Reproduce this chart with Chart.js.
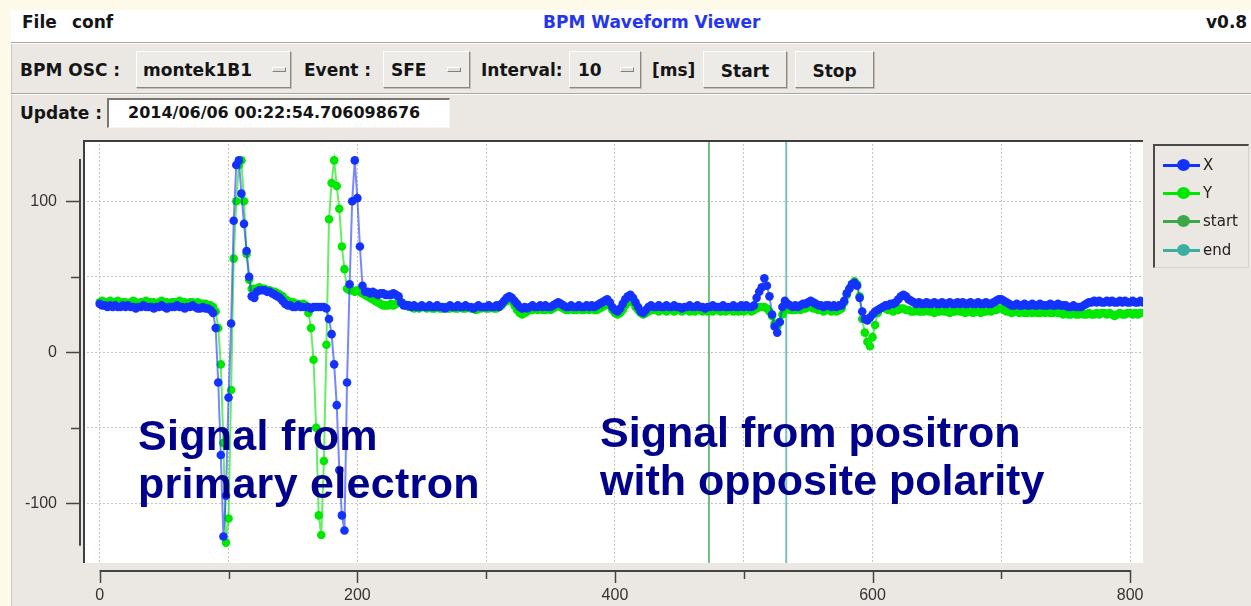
<!DOCTYPE html>
<html>
<head>
<meta charset="utf-8">
<script src="https://cdn.jsdelivr.net/npm/chart.js@4"></script>
<style>
  html, body { margin: 0; padding: 0; }
  body { width: 1251px; height: 606px; position: relative; overflow: hidden; background: #fdfaea; font-family: "DejaVu Sans", sans-serif; }
  #win { position: absolute; left: 11px; top: 10px; width: 1240px; height: 596px; background: #ebe8e3; border-left: 1px solid #cdc9c1; box-sizing: border-box; }
  #menubar { position: absolute; left: 11px; top: 10px; width: 1240px; height: 32px; background: #ffffff; }
  .etch { position: absolute; left: 11px; width: 1240px; height: 1px; background: #a9a59e; border-bottom: 1px solid #ffffff; }
  .lbl { position: absolute; font: bold 17px "DejaVu Sans", sans-serif; line-height: 20px; color: #151515; white-space: nowrap; }
  .raised { position: absolute; top: 51px; height: 37px; box-sizing: border-box; background: #edebe7;
            border: 1px solid; border-color: #ffffff #8b877f #8b877f #ffffff; box-shadow: 1px 1px 0 #c4c0b8; }
  .ind { position: absolute; top: 67px; width: 14px; height: 5px; box-sizing: border-box; background: #e2dfda;
         border: 1px solid; border-color: #ffffff #85817a #85817a #ffffff; }
  .btntext { position: absolute; top: 9px; left: 0; right: 0; text-align: center; font: bold 17px "DejaVu Sans", sans-serif; line-height: 20px; color: #151515; }
  #entry { position: absolute; left: 107px; top: 98px; width: 343px; height: 30px; box-sizing: border-box; background: #ffffff;
           border-top: 2px solid #7a7670; border-left: 2px solid #7a7670; border-right: 1px solid #f7f6f3; border-bottom: 1px solid #f7f6f3; }
  #chart { position: absolute; left: 0; top: 0; z-index: 1; }
  .note { position: absolute; z-index: 2; font: bold 43px "Liberation Sans", Arial, sans-serif; line-height: 48px; color: #00008c; white-space: nowrap; }
  #legend { position: absolute; left: 1153px; top: 144px; width: 96px; height: 124px; box-sizing: border-box; z-index: 2;
            border-left: 2px solid #4a4a4a; border-top: 2px solid #4a4a4a; border-right: 1px solid #d6d3ce; border-bottom: 1px solid #d6d3ce; }
  .lrow { position: absolute; left: 0; width: 96px; height: 20px; }
  .lline { position: absolute; left: 8px; top: 9px; width: 37px; height: 3px; }
  .ldot { position: absolute; left: 22px; top: 4px; width: 13px; height: 12px; border-radius: 50%; }
  .ltxt { position: absolute; left: 48px; top: 0; font: 15px "DejaVu Sans", sans-serif; line-height: 20px; color: #222; }
</style>
</head>
<body>
<div id="win"></div>
<div id="menubar"></div>
<div class="etch" style="top:42px"></div>
<div class="lbl" style="left:22px; top:12px;">File</div>
<div class="lbl" style="left:72px; top:12px;">conf</div>
<div class="lbl" style="left:543px; top:12px; color:#2636ee;">BPM Waveform Viewer</div>
<div class="lbl" style="left:1206px; top:12px;">v0.8</div>

<div class="lbl" style="left:20px; top:60px;">BPM OSC :</div>
<div class="raised" style="left:136px; width:155px;"></div>
<div class="lbl" style="left:143px; top:60px;">montek1B1</div>
<div class="ind" style="left:272px;"></div>
<div class="lbl" style="left:304px; top:60px;">Event :</div>
<div class="raised" style="left:383px; width:87px;"></div>
<div class="lbl" style="left:391px; top:60px;">SFE</div>
<div class="ind" style="left:447px;"></div>
<div class="lbl" style="left:481px; top:60px;">Interval:</div>
<div class="raised" style="left:569px; width:72px;"></div>
<div class="lbl" style="left:578px; top:60px;">10</div>
<div class="ind" style="left:620px;"></div>
<div class="lbl" style="left:652px; top:60px;">[ms]</div>
<div class="raised" style="left:703px; width:84px;"><div class="btntext">Start</div></div>
<div class="raised" style="left:795px; width:79px;"><div class="btntext">Stop</div></div>
<div class="etch" style="top:93px"></div>

<div class="lbl" style="left:20px; top:103px;">Update :</div>
<div id="entry"></div>
<div class="lbl" style="left:128px; top:103px; font-size:16px;">2014/06/06 00:22:54.706098676</div>

<canvas id="chart" width="1251" height="606"></canvas>

<div class="note" style="left:138px; top:411px; letter-spacing:0.3px;">Signal from<br>primary electron</div>
<div class="note" style="left:600px; top:408px;">Signal from positron<br>with opposite polarity</div>

<div id="legend"></div>

<script>
// ---- data (sample position step, X and Y waveforms, marker positions) ----
const sampleStep = 2;

const xVals = [
  32,31,31,30,31,30,31,30,30,31,
  30,31,30,30,29,30,30,31,30,30,
  30,29,30,30,31,30,29,30,30,30,
  31,30,30,29,30,30,31,30,29,29,
  30,29,29,28,26,16,-20,-68,-122,-95,
  -30,19,87,124,127,105,85,67,50,37,
  36,40,41,41,41,40,40,39,38,37,
  36,34,32,31,31,30,30,31,30,30,
  30,30,29,30,30,30,30,30,29,22,
  12,-8,-35,-78,-108,-118,-20,45,100,127,
  102,70,44,40,40,39,40,39,38,39,
  39,38,38,38,39,38,37,33,31,31,
  31,30,31,30,30,31,30,30,31,30,
  30,31,30,30,29,30,31,30,30,31,
  30,30,31,30,30,29,30,31,30,30,
  30,31,30,30,31,30,32,34,36,37,
  36,34,32,30,29,30,29,30,31,30,
  30,31,30,31,30,30,31,32,33,32,
  31,30,30,31,30,30,31,30,30,31,
  30,31,30,31,32,33,34,35,33,30,
  28,27,29,32,35,37,38,36,33,30,
  27,26,28,30,31,30,30,31,30,30,
  31,30,30,31,30,30,29,30,30,31,
  30,30,31,30,30,29,30,30,31,30,
  30,30,31,30,30,30,31,30,30,31,
  30,31,30,30,31,36,40,43,49,44,
  37,25,17,13,20,30,34,32,31,30,
  31,30,31,32,32,33,34,33,32,31,
  31,30,31,31,30,31,30,31,31,34,
  39,42,45,46,44,36,27,22,21,23,
  25,27,28,29,30,31,31,32,32,33,
  35,37,38,37,35,34,33,32,33,32,
  32,33,32,32,33,32,32,33,32,32,
  33,32,32,33,32,33,32,32,33,32,
  32,33,32,32,33,32,32,33,34,35,
  35,34,33,32,31,31,32,31,31,32,
  31,31,32,31,31,32,31,31,31,32,
  31,31,32,31,31,31,30,30,31,30,
  30,30,31,32,33,33,34,33,34,33,
  33,34,33,34,33,33,34,33,34,33,
  33,34,33,33,34,33
];

const yVals = [
  33,34,33,33,34,33,33,34,32,33,
  33,32,33,34,33,32,33,33,34,33,
  33,33,32,33,34,33,33,32,33,33,
  33,34,33,33,32,33,33,32,33,32,
  32,32,31,31,30,27,16,-8,-60,-126,
  -110,-25,62,100,124,127,100,65,48,42,
  42,42,43,42,42,41,41,40,40,39,
  38,37,35,34,33,33,32,32,31,32,
  31,26,16,-5,-50,-108,-121,-72,5,88,
  112,127,110,95,70,55,42,41,41,40,
  41,40,39,38,37,36,35,34,33,32,
  31,31,31,32,31,32,33,33,32,31,
  30,30,29,30,29,30,30,29,30,29,
  29,30,29,29,30,29,29,30,29,29,
  30,29,29,30,29,29,28,29,29,30,
  29,29,30,29,29,30,31,33,34,35,
  34,31,28,26,25,26,27,28,28,29,
  28,29,28,28,29,28,29,30,31,30,
  29,28,28,29,28,28,29,28,28,29,
  28,29,28,28,29,30,31,32,31,28,
  26,25,26,28,31,33,34,33,30,28,
  26,25,26,27,28,28,28,27,28,28,
  27,28,28,27,28,28,27,28,28,27,
  28,27,28,28,27,28,27,28,27,28,
  28,27,28,27,28,28,27,28,27,28,
  27,28,28,27,28,29,30,30,30,29,
  27,24,19,17,20,25,28,29,28,28,
  28,29,28,29,29,30,30,29,29,28,
  28,27,28,28,27,28,27,28,29,33,
  38,42,45,47,45,37,22,13,7,4,
  10,18,26,29,30,29,28,28,27,28,
  28,29,29,28,28,27,27,28,27,27,
  27,28,27,27,26,27,27,28,27,27,
  26,27,27,28,27,27,26,27,27,26,
  27,27,26,27,27,28,27,28,28,29,
  29,28,27,27,26,27,27,26,27,26,
  26,27,26,27,26,26,27,26,27,26,
  26,27,26,26,25,26,25,25,26,25,
  25,26,25,25,26,25,25,26,25,26,
  26,25,26,25,24,25,26,25,25,26,
  26,25,26,25,26,26
];

const startAt = 473;
const endAt = 533;

const seriesNames = ["X", "Y", "start", "end"];
const seriesColors = ["#1432ff", "#00e800", "#3aa846", "#3cb0a0"];

const xMin = -13, xMax = 810, xStep = 100;
const yMin = -139.5, yMax = 140.5, yStep = 50;
const xLabelValues = [0, 200, 400, 600, 800];
const yLabelValues = [100, 0, -100];
const yAxisSpan = [-128, 128];
const xAxisSpan = [0, 800];

// ---- build tables ----
const sampleX = xVals.map((_, i) => i * sampleStep);
const toPoints = vals => vals.map((v, i) => ({ x: sampleX[i], y: v }));

const decor = {
  id: 'decor',
  beforeDraw(chart) {
    const { ctx, chartArea: a } = chart;
    ctx.save();
    ctx.fillStyle = '#ffffff';
    ctx.fillRect(a.left, a.top, a.right - a.left, a.bottom - a.top);
    ctx.restore();
  },
  afterDraw(chart) {
    const { ctx, chartArea: a, scales } = chart;
    const xs = scales.x, ys = scales.y;
    ctx.save();
    ctx.strokeStyle = '#3e3e3e';
    ctx.lineWidth = 2;
    ctx.beginPath();
    ctx.moveTo(a.left + 1, a.bottom);
    ctx.lineTo(a.left + 1, a.top + 1);
    ctx.lineTo(a.right, a.top + 1);
    ctx.stroke();

    ctx.strokeStyle = '#444';
    const ax = a.left - 3;
    ctx.lineWidth = 2;
    ctx.beginPath();
    ctx.moveTo(ax, ys.getPixelForValue(yAxisSpan[1]));
    ctx.lineTo(ax, ys.getPixelForValue(yAxisSpan[0]));
    ctx.stroke();
    ctx.lineWidth = 1.5;
    ys.ticks.forEach(t => {
      const py = Math.round(ys.getPixelForValue(t.value)) + 0.5;
      const len = yLabelValues.includes(t.value) ? 14 : 9;
      ctx.beginPath();
      ctx.moveTo(ax - len, py);
      ctx.lineTo(ax, py);
      ctx.stroke();
    });

    const ay = a.bottom + 8;
    ctx.lineWidth = 2;
    ctx.beginPath();
    ctx.moveTo(xs.getPixelForValue(xAxisSpan[0]), ay);
    ctx.lineTo(xs.getPixelForValue(xAxisSpan[1]), ay);
    ctx.stroke();
    ctx.lineWidth = 1.5;
    xs.ticks.forEach(t => {
      const px = Math.round(xs.getPixelForValue(t.value)) + 0.5;
      const len = xLabelValues.includes(t.value) ? 12 : 8;
      ctx.beginPath();
      ctx.moveTo(px, ay - 1);
      ctx.lineTo(px, ay + len);
      ctx.stroke();
    });
    ctx.restore();
  }
};

const tickFont = { family: '"Liberation Sans", Arial, sans-serif', size: 16 };

new Chart(document.getElementById('chart'), {
  type: 'line',
  data: {
    datasets: [
      {
        label: seriesNames[0], data: toPoints(xVals),
        borderColor: 'rgba(30,55,255,0.6)', borderWidth: 2,
        pointRadius: 4.3, pointBorderWidth: 0,
        pointBackgroundColor: seriesColors[0], pointBorderColor: seriesColors[0]
      },
      {
        label: seriesNames[1], data: toPoints(yVals),
        borderColor: 'rgba(0,225,0,0.6)', borderWidth: 2,
        pointRadius: 4.3, pointBorderWidth: 0,
        pointBackgroundColor: seriesColors[1], pointBorderColor: seriesColors[1]
      },
      {
        label: seriesNames[2], data: [{ x: startAt, y: yMin }, { x: startAt, y: yMax }],
        borderColor: '#72bf80', borderWidth: 2, pointRadius: 0
      },
      {
        label: seriesNames[3], data: [{ x: endAt, y: yMin }, { x: endAt, y: yMax }],
        borderColor: '#74c4bf', borderWidth: 2, pointRadius: 0
      }
    ]
  },
  options: {
    responsive: false,
    animation: false,
    devicePixelRatio: 1,
    layout: { padding: { top: 140, right: 108, bottom: 0, left: 0 } },
    plugins: { legend: { display: false }, tooltip: { enabled: false } },
    scales: {
      x: {
        type: 'linear', min: xMin, max: xMax,
        afterFit(s) { s.height = 43; },
        ticks: {
          stepSize: xStep, includeBounds: false, autoSkip: false, maxRotation: 0,
          padding: 23, color: '#333', font: tickFont,
          callback: v => xLabelValues.includes(v) ? String(v) : ''
        },
        grid: { drawTicks: false, color: '#c4c4c4', lineWidth: 1 },
        border: { display: false, dash: [2, 2] }
      },
      y: {
        type: 'linear', min: yMin, max: yMax,
        afterFit(s) { s.width = 83; },
        ticks: {
          stepSize: yStep, includeBounds: false, autoSkip: false,
          padding: 26, color: '#333', font: tickFont,
          callback: v => yLabelValues.includes(v) ? String(v) : ''
        },
        grid: { drawTicks: false, color: '#c4c4c4', lineWidth: 1 },
        border: { display: false, dash: [2, 2] }
      }
    }
  },
  plugins: [decor]
});

const legend = document.getElementById('legend');
const rowTops = [9, 37, 65, 94];
seriesNames.forEach((name, i) => {
  const row = document.createElement('div');
  row.className = 'lrow';
  row.style.top = rowTops[i] + 'px';
  row.innerHTML = '<div class="lline" style="background:' + seriesColors[i] + '"></div>' +
                  '<div class="ldot" style="background:' + seriesColors[i] + '"></div>' +
                  '<div class="ltxt">' + name + '</div>';
  legend.appendChild(row);
});
</script>
</body>
</html>
